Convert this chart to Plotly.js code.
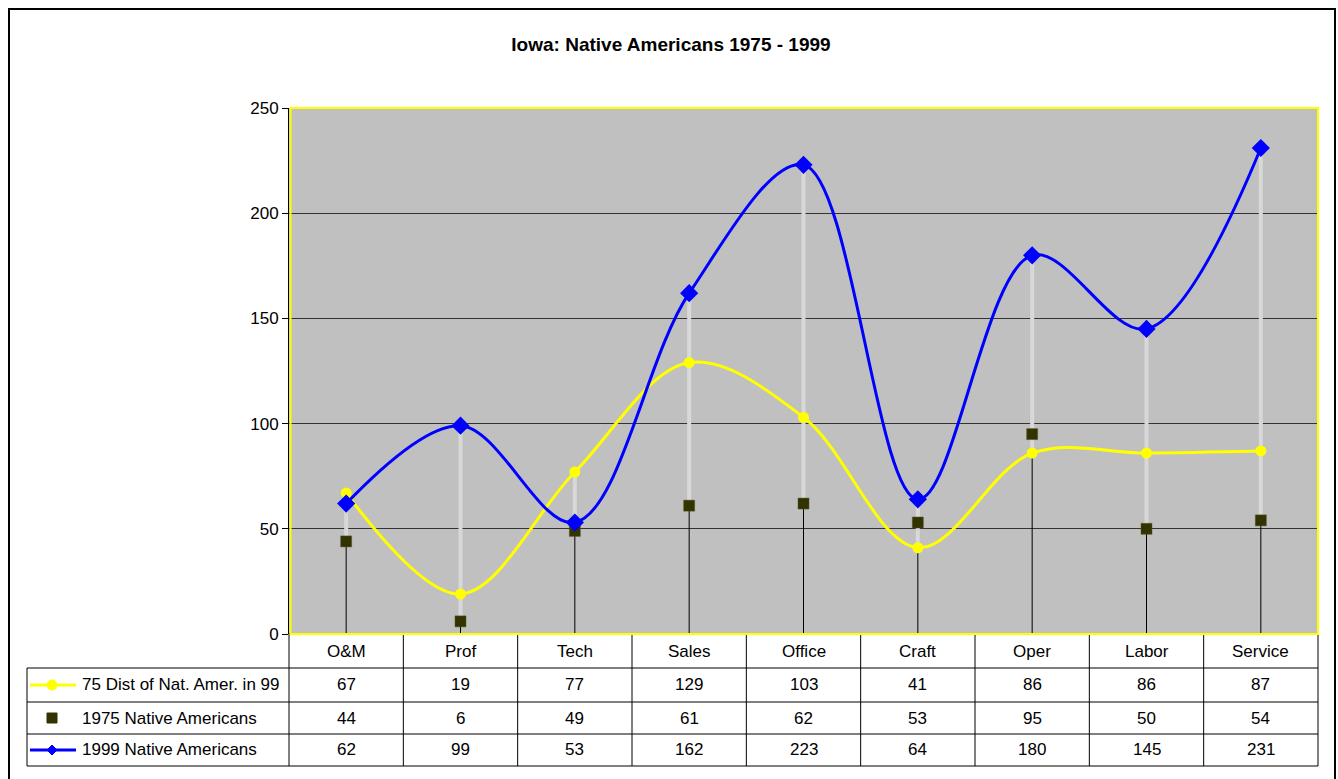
<!DOCTYPE html>
<html>
<head>
<meta charset="utf-8">
<script src="https://cdn.plot.ly/plotly-3.0.1.min.js"></script>
<style>
html,body{margin:0;padding:0;background:#fff;}
#chart{width:1338px;height:779px;}
</style>
</head>
<body>
<div id="chart"></div>
<script>
// ---- data ----
var categories = ['O&M','Prof','Tech','Sales','Office','Craft','Oper','Labor','Service'];
var dist75 = [67,19,77,129,103,41,86,86,87];
var native1975 = [44,6,49,61,62,53,95,50,54];
var native1999 = [62,99,53,162,223,64,180,145,231];
var seriesNames = ['75 Dist of Nat. Amer. in 99','1975 Native Americans','1999 Native Americans'];
var yTicks = [0,50,100,150,200,250];

// ---- geometry (pixels) ----
var W = 1338, H = 779;
var L = 289, R = 1318, T = 108, B = 634;
var pw = R - L, ph = B - T;
function px(x){ return (x - L) / pw; }
function py(y){ return (B - y) / ph; }

var FONT = 'Arial, "Liberation Sans", sans-serif';
var fs = 17;

// drop lines (black from 0 to lowest) and high-low lines (gray from lowest to highest)
var dropX = [], dropY = [], hlX = [], hlY = [];
categories.forEach(function(c, i){
  var vals = [dist75[i], native1975[i], native1999[i]];
  var lo = Math.min.apply(null, vals), hi = Math.max.apply(null, vals);
  dropX.push(c, c, null); dropY.push(0, lo, null);
  hlX.push(c, c, null); hlY.push(lo, hi, null);
});

var traces = [
  {x: dropX, y: dropY, mode: 'lines', line: {color: '#000', width: 1}, hoverinfo: 'skip', showlegend: false},
  {x: hlX, y: hlY, mode: 'lines', line: {color: '#D8D8D8', width: 4}, hoverinfo: 'skip', showlegend: false},
  {x: categories, y: dist75, name: seriesNames[0], mode: 'lines+markers',
   line: {color: '#FFFF00', width: 3, shape: 'spline', smoothing: 1},
   marker: {symbol: 'circle', size: 11, color: '#FFFF00'}},
  {x: categories, y: native1975, name: seriesNames[1], mode: 'markers',
   marker: {symbol: 'square', size: 11, color: '#333300', line: {color: '#55552a', width: 0.5}}},
  {x: categories, y: native1999, name: seriesNames[2], mode: 'lines+markers',
   line: {color: '#0000FF', width: 3, shape: 'spline', smoothing: 1},
   marker: {symbol: 'diamond', size: 14, color: '#0000FF'}}
];

var shapes = [];
var annotations = [];

// outer border
shapes.push({type: 'rect', xref: 'paper', yref: 'paper',
  x0: px(9), x1: px(1335), y0: py(9), y1: py(800),
  line: {color: '#000', width: 2}, fillcolor: 'rgba(0,0,0,0)'});

// data table lines
var rowY = [634, 668, 702, 734, 766];
var lineC = '#000';
shapes.push({type: 'line', xref: 'paper', yref: 'paper', x0: px(L), x1: px(R), y0: py(rowY[0]), y1: py(rowY[0]), line: {color: lineC, width: 1}});
for (var r = 1; r < rowY.length; r++) {
  shapes.push({type: 'line', xref: 'paper', yref: 'paper', x0: px(27), x1: px(R), y0: py(rowY[r]), y1: py(rowY[r]), line: {color: lineC, width: 1}});
}
for (var k = 0; k <= categories.length; k++) {
  var xx = k / categories.length;
  shapes.push({type: 'line', xref: 'paper', yref: 'paper', x0: xx, x1: xx, y0: py(rowY[0]), y1: py(rowY[4]), line: {color: lineC, width: 1}});
}
shapes.push({type: 'line', xref: 'paper', yref: 'paper', x0: px(27), x1: px(27), y0: py(rowY[1]), y1: py(rowY[4]), line: {color: lineC, width: 1}});

// plot area yellow border
shapes.push({type: 'rect', xref: 'paper', yref: 'paper', layer: 'above',
  x0: px(290.5), x1: 1, y0: 0, y1: 1,
  line: {color: '#FFFF00', width: 2}, fillcolor: 'rgba(0,0,0,0)'});

// legend keys in table
var rowCenters = [685, 718, 750];
var keyX0 = px(30), keyX1 = px(76), keyXc = px(52);
shapes.push({type: 'line', xref: 'paper', yref: 'paper', x0: keyX0, x1: keyX1, y0: py(rowCenters[0]), y1: py(rowCenters[0]), line: {color: '#FFFF00', width: 3}});
shapes.push({type: 'circle', xref: 'paper', yref: 'paper', xsizemode: 'pixel', ysizemode: 'pixel',
  xanchor: keyXc, yanchor: py(rowCenters[0]), x0: -5, x1: 5, y0: -5, y1: 5,
  fillcolor: '#FFFF00', line: {color: '#FFFF00', width: 1}});
shapes.push({type: 'rect', xref: 'paper', yref: 'paper', xsizemode: 'pixel', ysizemode: 'pixel',
  xanchor: keyXc, yanchor: py(rowCenters[1]), x0: -5, x1: 5, y0: -5, y1: 5,
  fillcolor: '#333300', line: {color: '#333300', width: 1}});
shapes.push({type: 'line', xref: 'paper', yref: 'paper', x0: keyX0, x1: keyX1, y0: py(rowCenters[2]), y1: py(rowCenters[2]), line: {color: '#0000FF', width: 3}});
shapes.push({type: 'path', xref: 'paper', yref: 'paper', xsizemode: 'pixel', ysizemode: 'pixel',
  xanchor: keyXc, yanchor: py(rowCenters[2]), path: 'M0,5 L5,0 L0,-5 L-5,0 Z',
  fillcolor: '#0000FF', line: {color: '#0000FF', width: 1}});

seriesNames.forEach(function(n, i){
  annotations.push({xref: 'paper', yref: 'paper', x: px(80), y: py(rowCenters[i]), xanchor: 'left', yanchor: 'middle',
    text: n, showarrow: false, font: {family: FONT, size: fs, color: '#000'}});
});

var tableRows = [dist75, native1975, native1999];
categories.forEach(function(c, i){
  annotations.push({xref: 'x', yref: 'paper', x: c, y: py(651), xanchor: 'center', yanchor: 'middle',
    text: c, showarrow: false, font: {family: FONT, size: fs, color: '#000'}});
  tableRows.forEach(function(row, r){
    annotations.push({xref: 'x', yref: 'paper', x: c, y: py(rowCenters[r]), xanchor: 'center', yanchor: 'middle',
      text: String(row[i]), showarrow: false, font: {family: FONT, size: fs, color: '#000'}});
  });
});

var layout = {
  width: W, height: H,
  margin: {l: L, r: W - R, t: T, b: H - B, pad: 0},
  paper_bgcolor: '#FFFFFF',
  plot_bgcolor: '#C0C0C0',
  showlegend: false,
  font: {family: FONT, size: fs, color: '#000'},
  title: {text: '<b>Iowa: Native Americans 1975 - 1999</b>', font: {family: FONT, size: 19, color: '#000'},
    x: 671 / W, xref: 'container', xanchor: 'center', y: 1 - 44 / H, yref: 'container', yanchor: 'middle'},
  xaxis: {type: 'category', categoryorder: 'array', categoryarray: categories, range: [-0.5, categories.length - 0.5],
    showticklabels: false, showgrid: false, zeroline: false, ticks: '', showline: false, fixedrange: true},
  yaxis: {range: [0, 250], tickvals: yTicks, ticktext: yTicks.map(String),
    showgrid: true, gridcolor: '#333333', gridwidth: 1, zeroline: false,
    showline: true, linecolor: '#000', linewidth: 1,
    ticks: 'outside', ticklen: 6, tickcolor: '#000', tickwidth: 1,
    tickfont: {family: FONT, size: fs, color: '#000'}, fixedrange: true},
  shapes: shapes,
  annotations: annotations
};

Plotly.newPlot('chart', traces, layout, {displayModeBar: false, staticPlot: true});
</script>
</body>
</html>
